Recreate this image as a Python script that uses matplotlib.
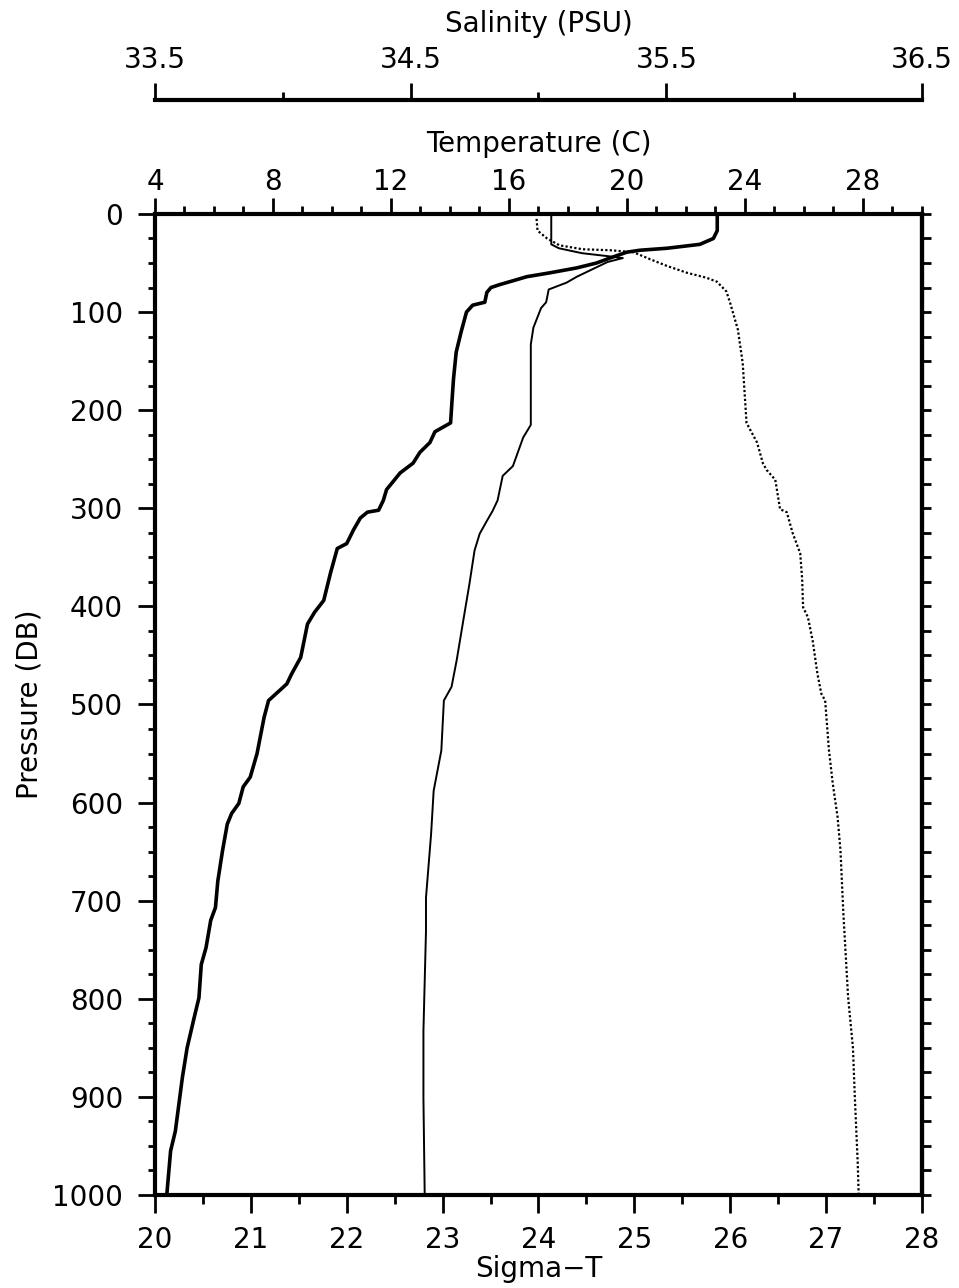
import numpy as np
import matplotlib
matplotlib.use("Agg")
import matplotlib.pyplot as plt
from matplotlib.ticker import MultipleLocator, FixedLocator, NullFormatter

# temperature profile (thick line)
temp_p = [0, 17, 25, 31, 35, 37, 39, 45, 50, 55, 60, 64, 68, 72, 75, 80, 90, 93, 100, 120,
          141, 168, 190, 213, 222, 233, 243, 254, 264, 281, 292, 302, 304, 310, 322, 336, 341,
          366, 394, 406, 418, 452, 469, 479, 496, 513, 550, 574, 584, 601, 611, 622, 649, 680,
          707, 720, 748, 765, 799, 819, 850, 880, 935, 955, 1000]
temp = [23.06, 23.06, 22.93, 22.47, 21.35, 20.44, 19.99, 19.42, 18.97, 18.30, 17.39, 16.60,
        16.15, 15.69, 15.39, 15.25, 15.18, 14.77, 14.56, 14.38, 14.21, 14.12, 14.07, 14.02,
        13.49, 13.32, 12.98, 12.75, 12.31, 11.85, 11.74, 11.58, 11.20, 10.96, 10.73, 10.50,
        10.18, 9.95, 9.72, 9.41, 9.17, 8.94, 8.63, 8.47, 7.85, 7.70, 7.46, 7.23, 6.99, 6.84,
        6.60, 6.45, 6.29, 6.13, 6.05, 5.89, 5.73, 5.57, 5.49, 5.33, 5.09, 4.93, 4.69, 4.53, 4.40]

# salinity profile (thin line)
sal_p = [0, 31, 35, 40, 43, 45, 49, 54, 64, 70, 77, 90, 96, 116, 133, 160, 194, 215, 228, 257,
         267, 292, 303, 312, 326, 343, 377, 408, 455, 482, 496, 547, 588, 632, 697, 731, 833,
         901, 1000]
sal = [35.05, 35.05, 35.08, 35.17, 35.27, 35.33, 35.27, 35.23, 35.15, 35.11, 35.04, 35.03,
       35.01, 34.98, 34.97, 34.97, 34.97, 34.97, 34.94, 34.90, 34.86, 34.84, 34.82, 34.80,
       34.77, 34.75, 34.73, 34.71, 34.68, 34.66, 34.63, 34.62, 34.59, 34.58, 34.56, 34.56,
       34.55, 34.55, 34.555]

# sigma-t profile (dotted line)
sig_p = [5, 17, 25, 32, 36, 37, 39, 46, 53, 60, 65, 69, 79, 91, 118, 152, 213, 233, 254, 261,
         271, 301, 304, 325, 346, 372, 401, 411, 435, 469, 489, 496, 547, 581, 615, 649, 713,
         799, 850, 901, 968, 1000]
sig = [23.98, 23.99, 24.09, 24.22, 24.46, 24.75, 24.99, 25.16, 25.34, 25.55, 25.75, 25.86,
       25.96, 26.00, 26.08, 26.13, 26.17, 26.28, 26.34, 26.38, 26.47, 26.52, 26.59, 26.65,
       26.73, 26.75, 26.76, 26.81, 26.86, 26.91, 26.95, 26.99, 27.03, 27.07, 27.12, 27.15,
       27.18, 27.23, 27.28, 27.30, 27.33, 27.34]

sal_major = [33.5, 34.5, 35.5, 36.5]
sal_minor = [34.0, 35.0, 36.0]

FS = 20
plt.rcParams['font.family'] = ['DejaVu Sans']

fig = plt.figure(figsize=(9.59, 12.88), dpi=100)
ax = fig.add_axes([0.1616, 0.0722, 0.7998, 0.7617])

# sigma-t on the main axes (bottom)
ax.plot(sig, sig_p, color='black', lw=1.6, linestyle=(0, (1, 1)))
ax.set_xlim(20, 28)
ax.set_ylim(1000, 0)
ax.xaxis.set_major_locator(MultipleLocator(1))
ax.xaxis.set_minor_locator(MultipleLocator(0.5))
ax.yaxis.set_major_locator(MultipleLocator(100))
ax.yaxis.set_minor_locator(MultipleLocator(25))
ax.tick_params(axis='x', which='major', direction='out', length=13, width=2, pad=9, labelsize=FS)
ax.tick_params(axis='x', which='minor', direction='out', length=6.5, width=2)
ax.tick_params(axis='y', which='major', direction='out', length=12, width=2, pad=11, labelsize=FS)
ax.tick_params(axis='y', which='minor', direction='out', length=5, width=2)
ax.set_xlabel('Sigma\u2212T', fontsize=FS, labelpad=1)
ax.set_ylabel('Pressure (DB)', fontsize=FS, labelpad=6)
for s in ax.spines.values():
    s.set_linewidth(3)
ax.spines['top'].set_visible(False)

# right side ticks, no labels
ax_r = ax.twinx()
ax_r.set_ylim(1000, 0)
ax_r.yaxis.set_major_locator(MultipleLocator(25))
ax_r.yaxis.set_major_formatter(NullFormatter())
ax_r.tick_params(axis='y', direction='out', length=6.5, width=2)
for k in ['left', 'top', 'bottom']:
    ax_r.spines[k].set_visible(False)
ax_r.spines['right'].set_linewidth(3)

# temperature on the top axis
ax_t = ax.twiny()
ax_t.plot(temp, temp_p, color='black', lw=2.6)
ax_t.set_xlim(4, 30)
ax_t.xaxis.set_major_locator(MultipleLocator(4))
ax_t.xaxis.set_minor_locator(MultipleLocator(1))
ax_t.tick_params(axis='x', which='major', direction='out', length=11.5, width=2, pad=1.5, labelsize=FS)
ax_t.tick_params(axis='x', which='minor', direction='out', length=6, width=2)
ax_t.set_xlabel('Temperature (C)', fontsize=FS, labelpad=11.5)
for k in ['left', 'right', 'bottom']:
    ax_t.spines[k].set_visible(False)
ax_t.spines['top'].set_linewidth(3)

# salinity on a second top axis, shifted up
ax_s = ax.twiny()
ax_s.plot(sal, sal_p, color='black', lw=1.4)
ax_s.set_xlim(33.5, 36.5)
ax_s.xaxis.set_major_locator(FixedLocator(sal_major))
ax_s.xaxis.set_minor_locator(FixedLocator(sal_minor))
ax_s.xaxis.set_ticklabels([f'{v:.1f}' for v in sal_major])
ax_s.spines['top'].set_position(('outward', 82))
ax_s.tick_params(axis='x', which='major', direction='out', length=12, width=2, pad=6.5, labelsize=FS)
ax_s.tick_params(axis='x', which='minor', direction='out', length=6, width=2)
ax_s.set_xlabel('Salinity (PSU)', fontsize=FS, labelpad=10.5)
for k in ['left', 'right', 'bottom']:
    ax_s.spines[k].set_visible(False)
ax_s.spines['top'].set_linewidth(3)

fig.savefig('out.png', dpi=100)
